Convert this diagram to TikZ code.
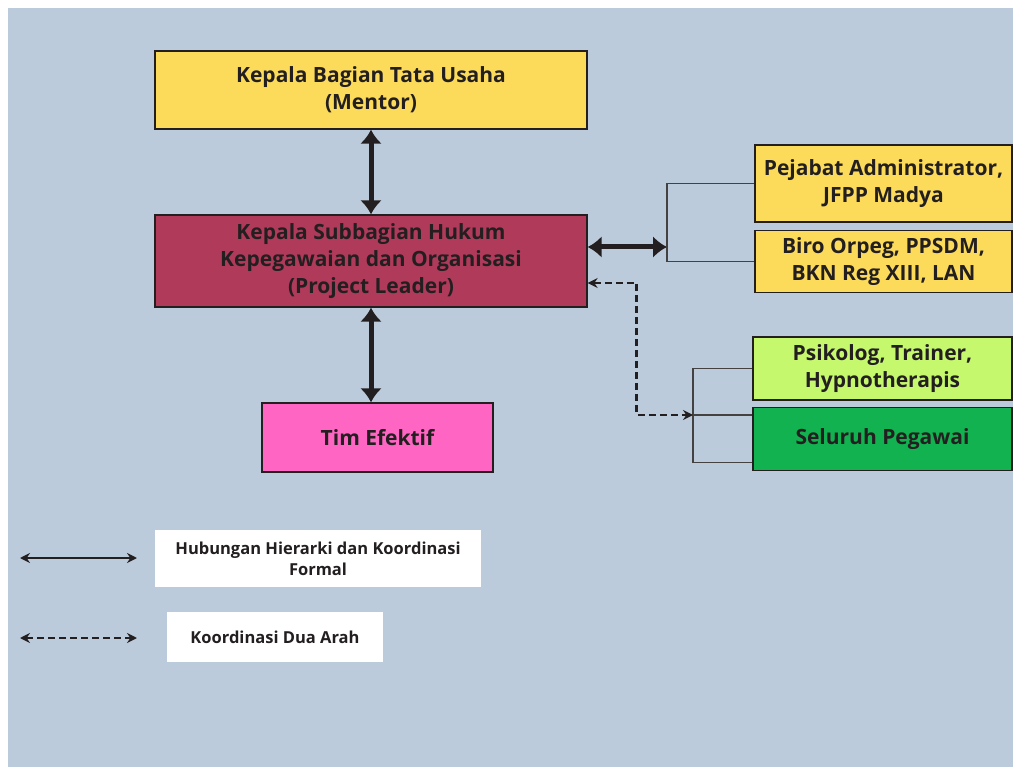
\documentclass[tikz,border=0pt]{standalone}
\usepackage{fontspec}
\setmainfont{Open Sans}
\usetikzlibrary{arrows.meta,positioning}

\definecolor{bgblue}{HTML}{BCCBDB}
\definecolor{boxyellow}{HTML}{FCDB5B}
\definecolor{boxcrimson}{HTML}{B03A5A}
\definecolor{boxpink}{HTML}{FF66C4}
\definecolor{boxlime}{HTML}{C6F86E}
\definecolor{boxgreen}{HTML}{12B250}
\definecolor{ink}{HTML}{231F20}

\begin{document}
\begin{tikzpicture}[x=1pt, y=-1pt,
  box/.style={draw=ink, line width=1.3pt, align=center, inner sep=0pt, text=ink, font=\bfseries\fontsize{21}{27}\selectfont},
  legendbox/.style={fill=white, align=center, inner sep=0pt, text=ink, font=\bfseries\fontsize{16.5}{21}\selectfont},
  bigarrow/.style={{Latex[length=14pt,width=22pt]}-{Latex[length=14pt,width=22pt]}, line width=5pt, draw=ink},
  thinarrow/.style={{Stealth[length=10pt,width=10pt]}-{Stealth[length=10pt,width=10pt]}, line width=2.8pt, draw=ink},
  bracket/.style={draw=ink!85, line width=1.5pt}
]
\useasboundingbox (0,0) rectangle (1013,767);
\fill[white] (0,0) rectangle (1013,767);
\fill[bgblue] (8,8) rectangle (1013,767);

% main column
\node[box, fill=boxyellow, minimum width=432pt, minimum height=78pt] (mentor) at (371,90) {Kepala Bagian Tata Usaha\\(Mentor)};
\node[box, fill=boxcrimson, minimum width=432pt, minimum height=92pt] (leader) at (371,261) {Kepala Subbagian Hukum\\Kepegawaian dan Organisasi\\(Project Leader)};
\node[box, fill=boxpink, minimum width=231pt, minimum height=69pt] (tim) at (377.5,437.5) {Tim Efektif};

% right side
\node[box, fill=boxyellow, minimum width=257pt, minimum height=77pt] (pejabat) at (883.5,183.5) {Pejabat Administrator,\\JFPP Madya};
\node[box, fill=boxyellow, minimum width=257pt, minimum height=62pt, below=7pt of pejabat] (biro) {Biro Orpeg, PPSDM,\\BKN Reg XIII, LAN};
\node[box, fill=boxlime, minimum width=259pt, minimum height=63pt] (psikolog) at (882.5,368.5) {Psikolog, Trainer,\\Hypnotherapis};
\node[box, fill=boxgreen, minimum width=259pt, minimum height=63pt, below=6pt of psikolog] (pegawai) {Seluruh Pegawai};

\coordinate (ja) at (667,247);
\coordinate (jb) at (693,415);

\draw[bigarrow] (mentor.south) -- (leader.north);
\draw[bigarrow] (leader.south) -- (leader.south |- tim.north);
\draw[bigarrow] ([yshift=14pt]leader.east) -- (ja);

\draw[bracket] (pejabat.west) -- (pejabat.west -| ja) -- (biro.west -| ja) -- (biro.west);
\draw[bracket] (psikolog.west) -- (psikolog.west -| jb) -- ([yshift=-23.5pt]pegawai.west -| jb) -- ([yshift=-23.5pt]pegawai.west);
\draw[bracket] (jb) -- (jb -| pegawai.west);

\draw[thinarrow, dash pattern=on 7pt off 4pt] ([yshift=-22pt]leader.east) -- ++(49,0) |- (jb);

% legend
\node[legendbox, minimum width=326pt, minimum height=57pt] (formal) at (318,558.5) {Hubungan Hierarki dan Koordinasi\\Formal};
\node[legendbox, minimum width=216pt, minimum height=50pt] (duaarah) at (275,637) {Koordinasi Dua Arah};
\coordinate (fa) at (20,558);
\coordinate (fb) at (137,558);
\coordinate (da) at (20,638);
\coordinate (db) at (137,638);
\draw[thinarrow] (fa) -- (fb);
\draw[thinarrow, dash pattern=on 7pt off 4pt] (da) -- (db);
\end{tikzpicture}
\end{document}
